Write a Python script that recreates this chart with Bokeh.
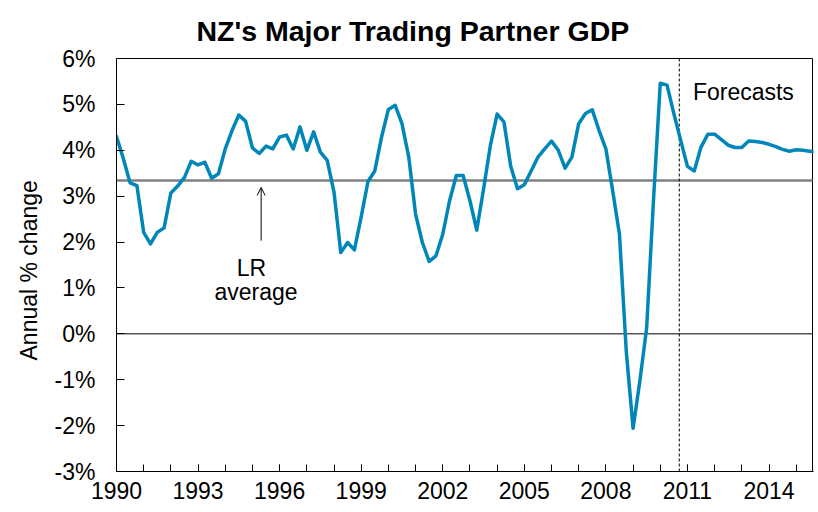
from bokeh.plotting import figure
from bokeh.models import (Range1d, FixedTicker, PrintfTickFormatter, Label,
                          Arrow, OpenHead, ColumnDataSource, Title)
from bokeh.embed import file_html
from bokeh.resources import INLINE

# ---- data (quarterly, annual % change) ----
start_year = 1990.0
gdp_growth = [
    4.30, 3.82, 3.29, 3.23,   # 1990
    2.21, 1.96, 2.21, 2.31,   # 1991
    3.07, 3.22, 3.41, 3.76,   # 1992
    3.68, 3.74, 3.39, 3.49,   # 1993
    4.03, 4.43, 4.77, 4.63,   # 1994
    4.05, 3.93, 4.09, 4.03,   # 1995
    4.29, 4.33, 4.03, 4.51,   # 1996
    4.00, 4.40, 3.96, 3.78,   # 1997
    3.09, 1.77, 1.99, 1.83,   # 1998
    2.55, 3.32, 3.55, 4.29,   # 1999
    4.89, 4.98, 4.58, 3.85,   # 2000
    2.61, 1.99, 1.58, 1.70,   # 2001
    2.17, 2.90, 3.45, 3.45,   # 2002
    2.90, 2.26, 3.15, 4.10,   # 2003
    4.79, 4.62, 3.65, 3.16,   # 2004
    3.25, 3.55, 3.85, 4.03,   # 2005
    4.20, 4.00, 3.61, 3.85,   # 2006
    4.58, 4.80, 4.88, 4.43,   # 2007
    4.03, 3.12, 2.17, -0.38,  # 2008
    -2.06, -1.03, 0.13, 2.90, # 2009
    5.46, 5.42, 4.80, 4.22,   # 2010
    3.65, 3.55, 4.07, 4.35,   # 2011
    4.35, 4.23, 4.11, 4.06,   # 2012
    4.06, 4.20, 4.19, 4.17,   # 2013
    4.13, 4.08, 4.02, 3.98,   # 2014
    4.01, 4.00, 3.98, 3.96,   # 2015
]
quarters = [start_year + 0.25 * i for i in range(len(gdp_growth))]

title_text = "NZ's Major Trading Partner GDP"
y_title = "Annual % change"
lr_average = 3.34
forecast_start = 2010.7
x_tick_years = [1990, 1993, 1996, 1999, 2002, 2005, 2008, 2011, 2014]
x_minor_years = list(range(1990, 2016))
y_ticks = [-3, -2, -1, 0, 1, 2, 3, 4, 5, 6]
x_min, x_max = 1990.0, 2015.6
y_min, y_max = -3.0, 6.0

FONT = "Liberation Sans"
LINE_BLUE = "#0086B8"
TXT = "23px"

# layout geometry (pixels)
W, H = 814, 508
LEFT, RIGHT_EDGE, TOP_EDGE, BOTTOM = 116, 812, 58, 471
px_per_x = (RIGHT_EDGE - LEFT) / (x_max - x_min)
px_per_y = (BOTTOM - TOP_EDGE) / (y_max - y_min)
x_view_end = x_max + (W - 1 - RIGHT_EDGE) / px_per_x      # frame runs 1px past box
y_view_top = y_max + TOP_EDGE / px_per_y                   # room for the title

p = figure(width=W, height=H,
           x_range=Range1d(x_min, x_view_end), y_range=Range1d(y_min, y_view_top),
           output_backend="svg", toolbar_location=None,
           min_border_left=LEFT, min_border_right=1,
           min_border_top=0, min_border_bottom=H - BOTTOM)

p.background_fill_color = "white"
p.border_fill_color = "white"
p.outline_line_color = None
p.xgrid.visible = False
p.ygrid.visible = False

# x axis
xa = p.xaxis[0]
xa.ticker = FixedTicker(ticks=x_tick_years, minor_ticks=x_minor_years)
xa.formatter = PrintfTickFormatter(format="%d")
xa.major_tick_in = 7
xa.major_tick_out = 0
xa.minor_tick_in = 7
xa.minor_tick_out = 0
xa.major_label_standoff = 10
xa.major_label_text_font = FONT
xa.major_label_text_font_size = TXT
xa.major_label_text_color = "black"
xa.axis_line_color = "black"
xa.major_tick_line_color = "black"
xa.minor_tick_line_color = "black"

# y axis
ya = p.yaxis[0]
ya.bounds = (y_min, y_max)
ya.ticker = FixedTicker(ticks=y_ticks)
ya.formatter = PrintfTickFormatter(format="%d%%")
ya.major_tick_in = 8
ya.major_tick_out = 0
ya.minor_tick_line_color = None
ya.major_label_standoff = 21
ya.major_label_text_font = FONT
ya.major_label_text_font_size = TXT
ya.major_label_text_color = "black"
ya.axis_line_color = "black"
ya.major_tick_line_color = "black"

# y-axis title, placed in the left panel (starts near the bottom, reads upward)
p.add_layout(Title(text=y_title, text_font=FONT, text_font_size=TXT,
                   text_font_style="normal", text_color="black",
                   align="left", offset=111, vertical_align="middle",
                   standoff=18), "left")

# plot box: top and right edges
p.segment(x0=[x_min, x_max], y0=[y_max, y_min], x1=[x_max, x_max], y1=[y_max, y_max],
          line_color="black", line_width=1)

# reference lines
p.segment(x0=[x_min], y0=[0], x1=[x_max], y1=[0], line_color="black", line_width=1)
p.segment(x0=[x_min], y0=[lr_average], x1=[x_max], y1=[lr_average],
          line_color="#808080", line_width=2.5)
p.segment(x0=[forecast_start], y0=[y_min], x1=[forecast_start], y1=[y_max],
          line_color="black", line_width=1, line_dash="3 2")

# series
src = ColumnDataSource(data=dict(x=quarters, y=gdp_growth))
p.line("x", "y", source=src, line_color=LINE_BLUE, line_width=3.5,
       line_join="round", line_cap="round")

# chart title
p.add_layout(Label(x=2000.9, y=y_max + (TOP_EDGE - 30) / px_per_y, text=title_text,
                   text_font=FONT, text_font_size="28.5px", text_font_style="bold",
                   text_color="black", text_align="center",
                   text_baseline="alphabetic"))

# annotations
p.add_layout(Label(x=2011.2, y=5.27, text="Forecasts", text_font=FONT,
                   text_font_size=TXT, text_color="black",
                   text_baseline="alphabetic"))
p.add_layout(Label(x=1994.96, y=1.44, text="LR", text_font=FONT,
                   text_font_size=TXT, text_color="black",
                   text_align="center", text_baseline="alphabetic"))
p.add_layout(Label(x=1995.13, y=0.91, text="average", text_font=FONT,
                   text_font_size=TXT, text_color="black",
                   text_align="center", text_baseline="alphabetic"))
p.add_layout(Arrow(end=OpenHead(size=8, line_width=1, line_color="black"),
                   x_start=1995.32, y_start=2.03, x_end=1995.32, y_end=3.19,
                   line_width=1, line_color="black"))

open("out.html", "w").write(file_html(p, INLINE))
